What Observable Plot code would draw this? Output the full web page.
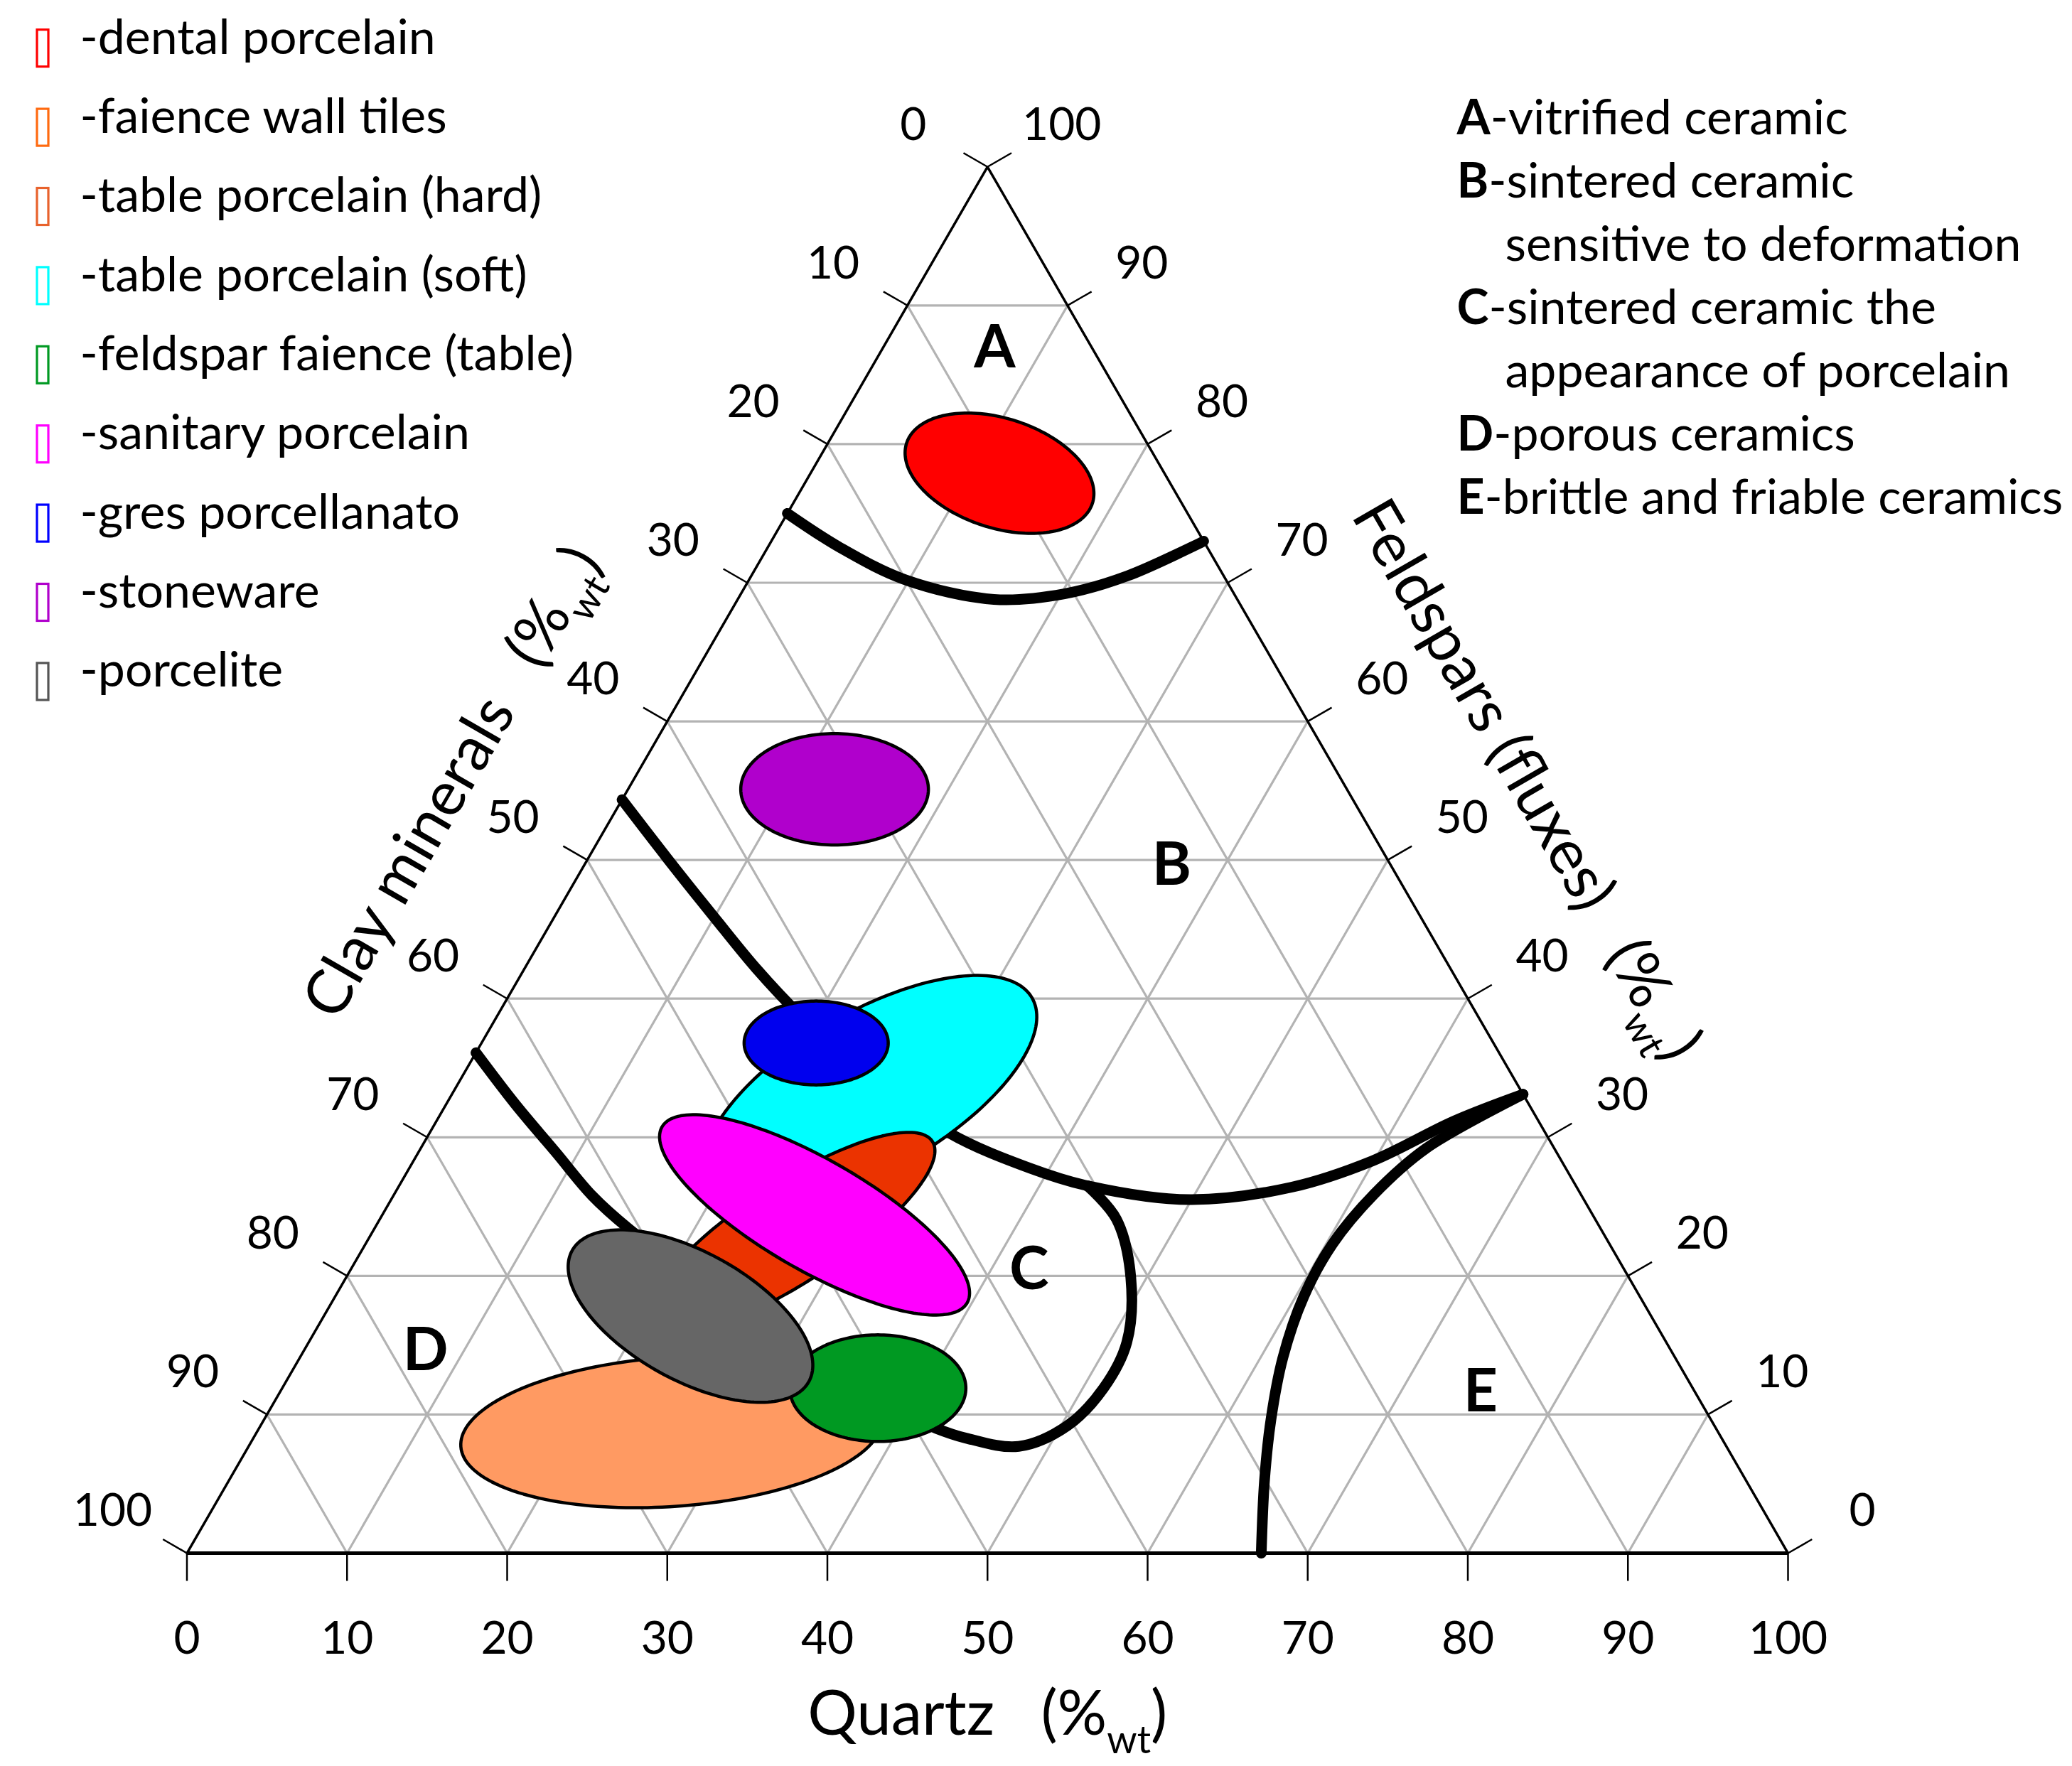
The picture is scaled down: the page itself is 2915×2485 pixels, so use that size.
<!DOCTYPE html>
<html><head><meta charset="utf-8">
<script src="https://cdn.jsdelivr.net/npm/d3@7"></script>
<script src="https://cdn.jsdelivr.net/npm/@observablehq/plot@0.6"></script>
<style>
html,body{margin:0;padding:0;background:#fff;}
</style></head><body><div id="chart"></div>
<script>
// ================= DATA =================
const tickValues = [0, 10, 20, 30, 40, 50, 60, 70, 80, 90, 100];
const axisNames = ["Quartz", "Clay minerals", "Feldspars (fluxes)"];
const unitMain = "(%";
const unitSub = "wt";
const unitEnd = ")";

const ceramicNames = ["dental porcelain", "faience wall tiles", "table porcelain (hard)",
  "table porcelain (soft)", "feldspar faience (table)", "sanitary porcelain",
  "gres porcellanato", "stoneware", "porcelite"];
const legendColors = ["#ff0000", "#ff6a10", "#e8622c", "#00ffff", "#009922", "#ff00ff", "#0000ff", "#b000cc", "#555555"];
const fillColors   = ["#ff0000", "#ff9a62", "#eb3300", "#00ffff", "#009922", "#ff00ff", "#0000ee", "#b000cc", "#666666"];
// composition field of each ceramic (centre in %wt quartz / feldspar, clay = rest)
const centerQuartz   = [11.8, 25.9, 26.2, 26.0, 37.2, 27.0, 20.9, 12.9, 22.9];
const centerFeldspar = [77.9,  8.75, 23.1, 33.3, 11.9, 24.4, 36.8, 55.1, 17.1];
const semiMajor = [6.1, 13.2, 10.5, 11.7, 5.5, 11.0, 4.5, 5.86, 8.45];
const semiMinor = [3.42, 4.66, 3.1, 4.95, 3.33, 3.45, 2.62, 3.48, 4.0];
const tiltDeg   = [-18, 4, 33, 30, 0, -30, 0, 0, -29];
const drawOrder = [3, 6, 2, 5, 1, 4, 8, 0, 7];

// field boundaries, [quartz, feldspar] (clay = 100 - quartz - feldspar)
const boundaryA = [[0, 75.0], [4.6, 72.5], [9.8, 70.2], [16.0, 68.8], [20.2, 69.2], [23.5, 70.5], [27.0, 73.0]];
const boundaryB = [[0, 54.35], [5.0, 50.07], [10.0, 45.87], [14.5, 42.15], [18.9, 38.8], [24.5, 35.0], [32.4, 30.34],
  [38.8, 27.76], [43.0, 26.5], [49.9, 25.5], [55.8, 26.4], [59.9, 28.3], [63.6, 31.2], [66.9, 33.1]];
const boundaryC = [[43.0, 26.5], [46.0, 24.1], [49.0, 19.9], [51.1, 15.2], [51.3, 11.9], [50.4, 9.2], [48.1, 7.7],
  [44.5, 8.3], [42.3, 9.0], [39.2, 10.3]];
const boundaryD = [[0, 36.1], [4.3, 32.4], [8.6, 28.9], [12.4, 25.8], [15.9, 23.4], [19.4, 21.3]];
const boundaryE = [[66.9, 33.1], [62.8, 29.2], [61.2, 25.9], [60.4, 22.3], [60.5, 18.5], [61.4, 14.1], [62.9, 9.6], [64.7, 5.2], [67.1, 0]];

const zoneLetters  = ["A", "B", "C", "D", "E"];
const zoneQuartz   = [7.0, 36.7, 42.4, 7.6, 75.0];
const zoneFeldspar = [86.9, 49.6, 20.4, 14.6, 11.6];
const zoneLegendLetter = ["A", "B", "", "C", "", "D", "E"];
const zoneLegendText = ["-vitrified ceramic", "-sintered ceramic", "sensitive to deformation",
  "-sintered ceramic the", "appearance of porcelain", "-porous ceramics", "-brittle and friable ceramics"];

// ================= LAYOUT =================
const W = 2915, H = 2485;
const PX = 22.525;              // pixels per 1 %wt along a side
const OX = 262.5, OY = 2185;    // pixel position of the 100% clay corner
const px2x = p => (p - OX) / PX;
const px2y = p => (OY - p) / PX;
const S3 = Math.sqrt(3) / 2;
const cart = (q, f) => [q + f / 2, f * S3];
const FONT = "Lato, 'Open Sans', sans-serif";
const FS_TICK = 64, FS = 68, FS_TITLE = 87, FS_ZONE = 84;

// grid
const grid = [];
for (const k of tickValues.slice(1, -1)) {
  grid.push([cart(0, k), cart(100 - k, k)]);
  grid.push([cart(k, 0), cart(k, 100 - k)]);
  grid.push([cart(100 - k, 0), cart(0, 100 - k)]);
}
// ticks + labels
const TL = 39 / PX;
const ticks = [], labels = [];
for (const v of tickValues) {
  const b = cart(v, 0);
  ticks.push([b, [b[0], b[1] - TL]]);
  labels.push({x: b[0], y: b[1] - 121 / PX, t: String(v)});
  const l = cart(0, 100 - v);          // clay = v
  ticks.push([l, [l[0] - S3 * TL, l[1] + 0.5 * TL]]);
  labels.push({x: l[0] - 104.5 / PX, y: l[1] + 58.7 / PX, t: String(v)});
  const r = cart(100 - v, v);          // feldspar = v
  ticks.push([r, [r[0] + S3 * TL, r[1] + 0.5 * TL]]);
  labels.push({x: r[0] + 104.5 / PX, y: r[1] + 58.7 / PX, t: String(v)});
}
const frame = [cart(0, 0), cart(100, 0), cart(0, 100), cart(0, 0)];

function ellipse(i) {
  const [cx, cy] = cart(centerQuartz[i], centerFeldspar[i]);
  const th = tiltDeg[i] * Math.PI / 180, a = semiMajor[i], b = semiMinor[i];
  return d3.range(180).map(k => {
    const t = k / 180 * 2 * Math.PI;
    return [cx + a * Math.cos(th) * Math.cos(t) - b * Math.sin(th) * Math.sin(t),
            cy + a * Math.sin(th) * Math.cos(t) + b * Math.cos(th) * Math.sin(t)];
  });
}
const curve = pts => Plot.line(pts.map(p => cart(p[0], p[1])), {
  x: d => d[0], y: d => d[1], curve: "catmull-rom", stroke: "black", strokeWidth: 15, strokeLinecap: "round", strokeLinejoin: "round"});

const link = (data, opts) => Plot.link(data, {x1: d => d[0][0], y1: d => d[0][1], x2: d => d[1][0], y2: d => d[1][1], ...opts});

const titles = [
  {x: 50, y: px2y(2440 - 0.32 * FS_TITLE), r: 0, t: axisNames[0]},
  {x: 25 - S3 * 218 / PX, y: 50 * S3 + 0.5 * 218 / PX, r: -60, t: axisNames[1]},
  {x: 75 + S3 * 225 / PX, y: 50 * S3 + 0.5 * 225 / PX, r: 60, t: axisNames[2]}
];

const leftRows = ceramicNames.map((n, i) => ({i, n}));
const rightRows = zoneLegendText.map((t, i) => ({i, t: zoneLegendLetter[i] + t, indent: zoneLegendLetter[i] === ""}));

const marks = [
  link(grid, {stroke: "#b3b3b3", strokeWidth: 3.2}),
  curve(boundaryA), curve(boundaryB), curve(boundaryC), curve(boundaryD), curve(boundaryE),
  ...drawOrder.map(i => Plot.line(ellipse(i), {x: d => d[0], y: d => d[1], curve: "linear-closed",
    fill: fillColors[i], stroke: "black", strokeWidth: 4.5})),
  Plot.line(frame, {x: d => d[0], y: d => d[1], stroke: "black", strokeWidth: 3.5, strokeLinejoin: "miter"}),
  link([[cart(0, 0), cart(100, 0)]], {stroke: "black", strokeWidth: 5}),
  link(ticks, {stroke: "black", strokeWidth: 2.5}),
  Plot.text(labels, {x: "x", y: "y", text: "t", fontSize: FS_TICK, fontFamily: FONT, fill: "black"}),
  Plot.text(titles, {x: "x", y: "y", text: "t", rotate: d => d.r, fontSize: FS_TITLE, fontFamily: FONT, fill: "black"}),
  Plot.text(zoneLetters, {x: (d, i) => cart(zoneQuartz[i], zoneFeldspar[i])[0], y: (d, i) => cart(zoneQuartz[i], zoneFeldspar[i])[1],
    text: d => d, fontSize: FS_ZONE, fontWeight: "bold", fontFamily: FONT, fill: "black"}),
  // left legend
  Plot.rect(leftRows, {x1: () => px2x(52), x2: () => px2x(68),
    y1: d => px2y(67.7 + 111.4 * d.i - 26), y2: d => px2y(67.7 + 111.4 * d.i + 26),
    fill: "none", stroke: d => legendColors[d.i], strokeWidth: 3.2}),
  Plot.text(leftRows, {x: () => px2x(112), y: d => px2y(75.3 + 111.3 * d.i - 0.32 * FS), text: d => "-" + d.n,
    textAnchor: "start", fontSize: FS, fontFamily: FONT, fill: "black"}),
  // right legend
  Plot.text(rightRows, {x: d => px2x(d.indent ? 2117 : 2049), y: d => px2y(188 + 89 * d.i - 0.32 * FS), text: "t",
    textAnchor: "start", fontSize: FS, fontFamily: FONT, fill: "black"})
];

const svg = Plot.plot({
  width: W, height: H, margin: 0,
  x: {domain: [px2x(0), px2x(W)], axis: null},
  y: {domain: [px2y(H), px2y(0)], axis: null},
  style: {fontFamily: FONT, background: "white", overflow: "visible"},
  marks
});

// rich text: subscripts and bold letters
d3.select(svg).selectAll("text").each(function () {
  const t = d3.select(this);
  const s = t.text();
  if (axisNames.includes(s)) {
    t.text(null);
    t.append("tspan").text(s);
    t.append("tspan").attr("dx", 0.75 * FS_TITLE).text(unitMain);
    t.append("tspan").attr("dy", 0.3 * FS_TITLE).attr("font-size", 0.62 * FS_TITLE).text(unitSub);
    t.append("tspan").attr("dy", -0.3 * FS_TITLE).text(unitEnd);
  } else if (/^[A-E]-/.test(s)) {
    t.text(null);
    t.append("tspan").attr("font-weight", "bold").text(s[0]);
    t.append("tspan").text(s.slice(1));
  }
});
document.getElementById("chart").appendChild(svg);
</script></body></html>
